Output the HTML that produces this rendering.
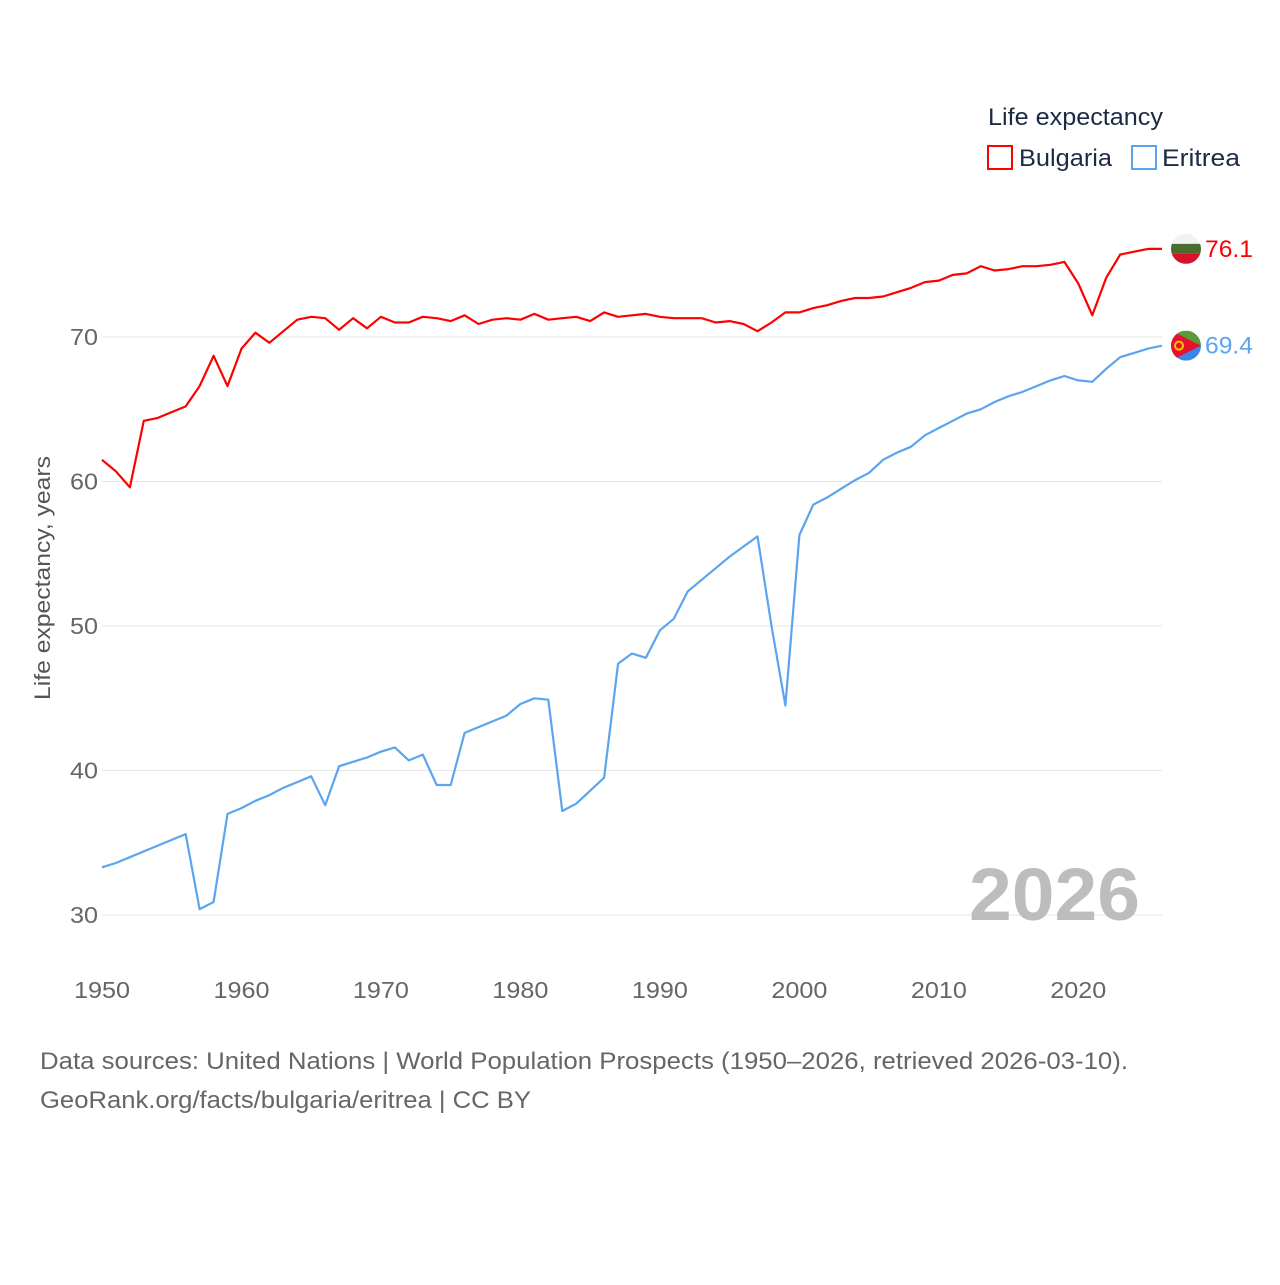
<!DOCTYPE html>
<html><head><meta charset="utf-8"><style>
body{margin:0;background:#fff;font-family:"Liberation Sans",sans-serif}
</style></head><body>
<svg id="chart" width="1280" height="1280" viewBox="0 0 1280 1280" xmlns="http://www.w3.org/2000/svg" style="font-family:'Liberation Sans',sans-serif">
<g id="grid"></g>
<g id="yticks"></g>
<g id="xticks"></g>
<text transform="translate(50,578) rotate(-90)" text-anchor="middle" font-size="22" fill="#555" textLength="244" lengthAdjust="spacingAndGlyphs">Life expectancy, years</text>
<text x="969" y="920" font-size="74" font-weight="bold" fill="#bdbdbd" textLength="171" lengthAdjust="spacingAndGlyphs">2026</text>
<g id="series"></g>
<g>
<text x="988" y="125" font-size="24" fill="#1d2a44" textLength="175" lengthAdjust="spacingAndGlyphs">Life expectancy</text>
<rect x="988" y="146" width="24" height="23" fill="none" stroke="#ff0000" stroke-width="2"/>
<text x="1019" y="166" font-size="24" fill="#1d2a44" textLength="93" lengthAdjust="spacingAndGlyphs">Bulgaria</text>
<rect x="1132" y="146" width="24" height="23" fill="none" stroke="#5aa5ee" stroke-width="2"/>
<text x="1162" y="166" font-size="24" fill="#1d2a44" textLength="78" lengthAdjust="spacingAndGlyphs">Eritrea</text>
</g>
<text x="40" y="1069" font-size="24" fill="#666" textLength="1088" lengthAdjust="spacingAndGlyphs">Data sources: United Nations | World Population Prospects (1950–2026, retrieved 2026-03-10).</text>
<text x="40" y="1108" font-size="24" fill="#666" textLength="491" lengthAdjust="spacingAndGlyphs">GeoRank.org/facts/bulgaria/eritrea | CC BY</text>
</svg>
<script>
const years=[];for(let y=1950;y<=2026;y++)years.push(y);
const bulgaria=[61.5,60.7,59.6,64.2,64.4,64.8,65.2,66.6,68.7,66.6,69.2,70.3,69.6,70.4,71.2,71.4,71.3,70.5,71.3,70.6,71.4,71.0,71.0,71.4,71.3,71.1,71.5,70.9,71.2,71.3,71.2,71.6,71.2,71.3,71.4,71.1,71.7,71.4,71.5,71.6,71.4,71.3,71.3,71.3,71.0,71.1,70.9,70.4,71.0,71.7,71.7,72.0,72.2,72.5,72.7,72.7,72.8,73.1,73.4,73.8,73.9,74.3,74.4,74.9,74.6,74.7,74.9,74.9,75.0,75.2,73.7,71.5,74.1,75.7,75.9,76.1,76.1];
const eritrea=[33.3,33.6,34.0,34.4,34.8,35.2,35.6,30.4,30.9,37.0,37.4,37.9,38.3,38.8,39.2,39.6,37.6,40.3,40.6,40.9,41.3,41.6,40.7,41.1,39.0,39.0,42.6,43.0,43.4,43.8,44.6,45.0,44.9,37.2,37.7,38.6,39.5,47.4,48.1,47.8,49.7,50.5,52.4,53.2,54.0,54.8,55.5,56.2,50.0,44.5,56.3,58.4,58.9,59.5,60.1,60.6,61.5,62.0,62.4,63.2,63.7,64.2,64.7,65.0,65.5,65.9,66.2,66.6,67.0,67.3,67.0,66.9,67.8,68.6,68.9,69.2,69.4];
const yTicks=[30,40,50,60,70];
const xTicks=[1950,1960,1970,1980,1990,2000,2010,2020];
const X=y=>102+(y-1950)*(1162-102)/76;
const Y=v=>915-(v-30)*(915-337)/40;
const NS="http://www.w3.org/2000/svg";
function mk(t,a,p){const e=document.createElementNS(NS,t);for(const k in a)e.setAttribute(k,a[k]);p.appendChild(e);return e;}
const grid=document.getElementById('grid'),yt=document.getElementById('yticks'),xt=document.getElementById('xticks'),ser=document.getElementById('series');
yTicks.forEach(v=>{
 const l=mk('line',{x1:102,x2:1162,y1:Y(v),y2:Y(v),stroke:'#e6e6e6','stroke-width':1},grid);
 
 
 const t=mk('text',{x:98,y:Y(v)+8,'text-anchor':'end','font-size':23,fill:'#666',textLength:28,lengthAdjust:'spacingAndGlyphs'},yt);t.textContent=v;
 
 
});
xTicks.forEach(v=>{
 const t=mk('text',{x:X(v)-28,y:998,'font-size':23,fill:'#666',textLength:56,lengthAdjust:'spacingAndGlyphs'},xt);t.textContent=v;
 
 
});
function line(data,color,name){
 const p=mk('path',{d:data.map((v,i)=>(i?'L':'M')+X(years[i]).toFixed(1)+','+Y(v).toFixed(1)).join(''),fill:'none',stroke:color,'stroke-width':2.2,'stroke-linejoin':'round'},ser);
 
 
 const last=data[data.length-1],cx=1186,cy=Y(last);
 const g=mk('g',{},ser);
 
 
 if(name==='bulgaria'){
  g.innerHTML='<clipPath id="cb"><circle cx="'+cx+'" cy="'+cy+'" r="15"/></clipPath><g clip-path="url(#cb)"><rect x="'+(cx-15)+'" y="'+(cy-15)+'" width="30" height="10" fill="#f2f2f2"/><rect x="'+(cx-15)+'" y="'+(cy-5)+'" width="30" height="10" fill="#4b6b2f"/><rect x="'+(cx-15)+'" y="'+(cy+5)+'" width="30" height="10" fill="#d6132a"/></g>';
 }else{
  g.innerHTML='<clipPath id="ce"><circle cx="'+cx+'" cy="'+cy+'" r="15"/></clipPath><g clip-path="url(#ce)"><rect x="'+(cx-15)+'" y="'+(cy-15)+'" width="30" height="15" fill="#5a9a3a"/><rect x="'+(cx-15)+'" y="'+cy+'" width="30" height="15" fill="#3a86e8"/><polygon points="'+(cx-15)+','+(cy-15)+' '+(cx+15)+','+cy+' '+(cx-15)+','+(cy+15)+'" fill="#e8112d"/><circle cx="'+(cx-7)+'" cy="'+cy+'" r="4" fill="none" stroke="#f5c500" stroke-width="2"/></g>';
 }
 const t=mk('text',{x:1205,y:cy+8,'font-size':24,fill:color,textLength:48,lengthAdjust:'spacingAndGlyphs'},ser);t.textContent=last.toFixed(1);
 
 
}
line(bulgaria,'#ff0000','bulgaria');
line(eritrea,'#5aa5ee','eritrea');
</script>
</body></html>
